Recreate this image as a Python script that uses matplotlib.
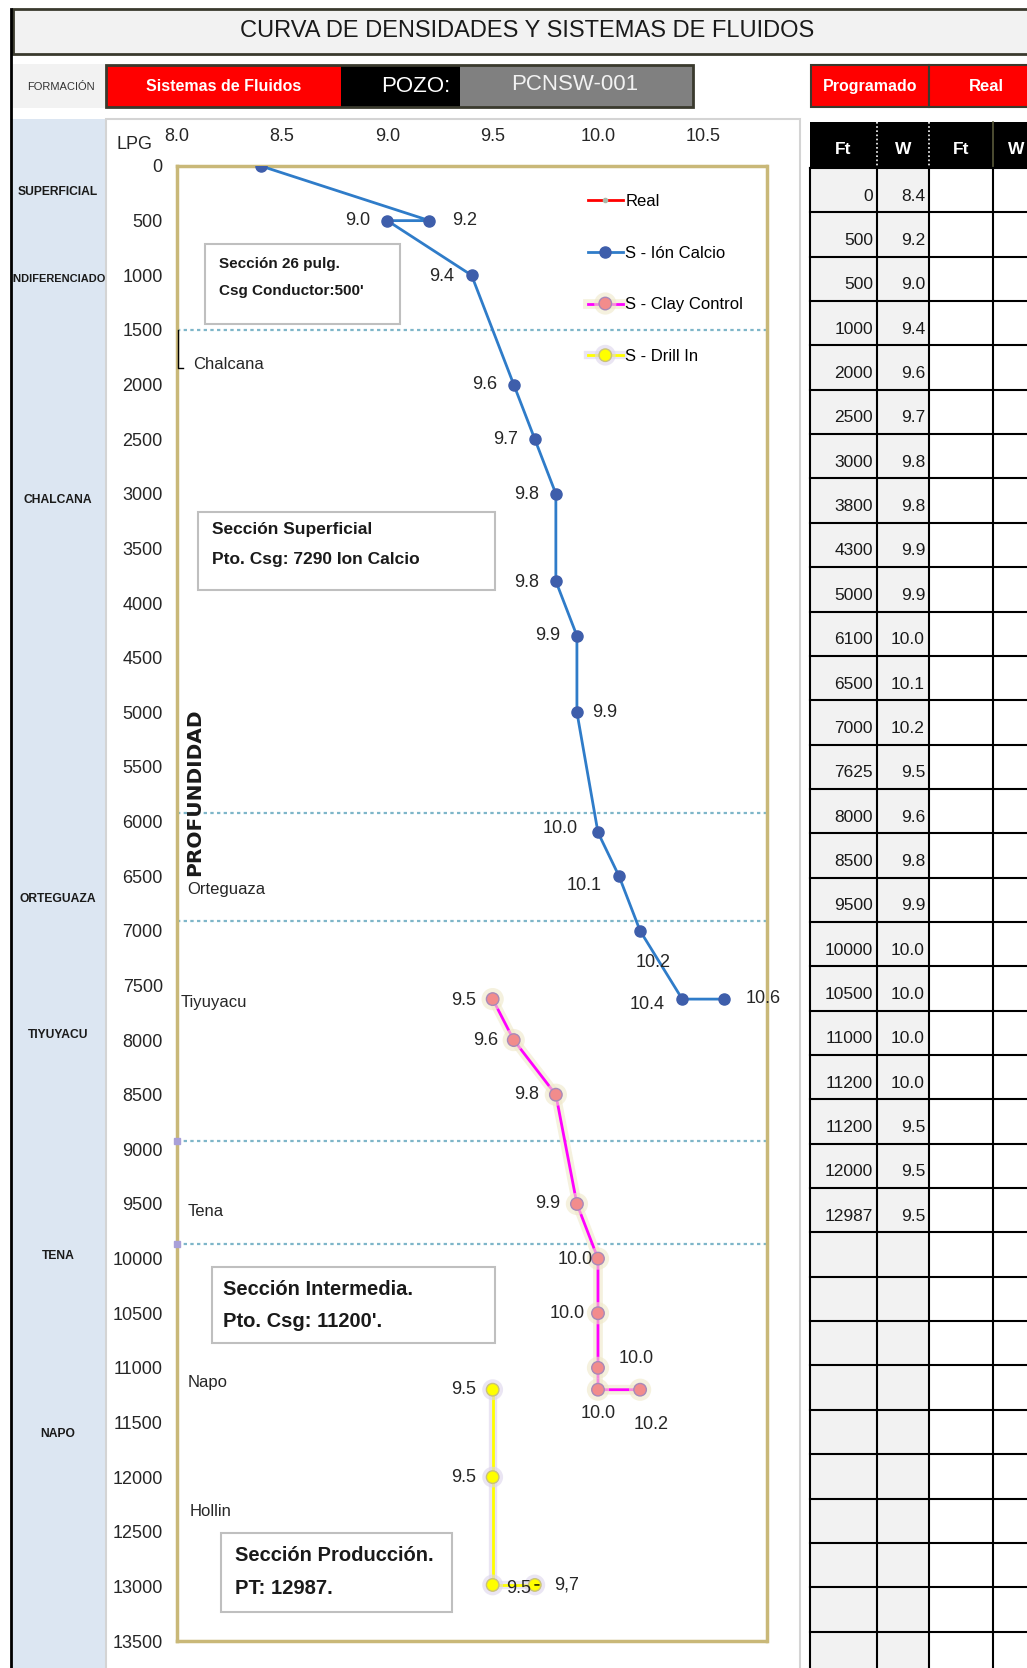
import matplotlib
matplotlib.use("Agg")
import matplotlib.pyplot as plt
import matplotlib.patheffects as pe
import matplotlib.transforms as mtransforms
from matplotlib import font_manager
from matplotlib.patches import Rectangle

W, H = 1027, 1668

# --- chart series: depth (ft) and mud weight (LPG) ---
calcio_ft = [0, 500, 500, 1000, 2000, 2500, 3000, 3800, 4300, 5000, 6100, 6500, 7000, 7625, 7625]
calcio_w = [8.4, 9.2, 9.0, 9.4, 9.6, 9.7, 9.8, 9.8, 9.9, 9.9, 10.0, 10.1, 10.2, 10.4, 10.6]
clay_ft = [7625, 8000, 8500, 9500, 10000, 10500, 11000, 11200, 11200]
clay_w = [9.5, 9.6, 9.8, 9.9, 10.0, 10.0, 10.0, 10.0, 10.2]
drill_ft = [11200, 12000, 12987, 12987]
drill_w = [9.5, 9.5, 9.5, 9.7]
drill_labels = ["9.5", "9.5", "9.5", "9,7"]
real_ft = []
real_w = []

# formation tops and names inside the plot
tops_ft = [1500, 5920, 6910, 8925, 9870]
top_marks_ft = [8925, 9870]
form_names = ["Chalcana", "Orteguaza", "Tiyuyacu", "Tena", "Napo", "Hollin"]
form_ft = [1820, 6625, 7655, 9565, 11135, 12315]
form_x = [8.077, 8.05, 8.02, 8.05, 8.05, 8.06]

# formation column on the left
col_names = ["SUPERFICIAL", "INDIFERENCIADO", "CHALCANA", "ORTEGUAZA", "TIYUYACU", "TENA", "NAPO"]
col_ft = [238, 1034, 3057, 6709, 7949, 9976, 11602]

# programmed table
prog_ft = [0, 500, 500, 1000, 2000, 2500, 3000, 3800, 4300, 5000, 6100, 6500, 7000, 7625,
           8000, 8500, 9500, 10000, 10500, 11000, 11200, 11200, 12000, 12987]
prog_w = [8.4, 9.2, 9.0, 9.4, 9.6, 9.7, 9.8, 9.8, 9.9, 9.9, 10.0, 10.1, 10.2, 9.5,
          9.6, 9.8, 9.9, 10.0, 10.0, 10.0, 10.0, 9.5, 9.5, 9.5]

xticks = [8.0, 8.5, 9.0, 9.5, 10.0, 10.5]
yticks = list(range(0, 13501, 500))

# section notes: lines, box x0, x1, y0, y1, text x, line depths, size
sections = [
    (["Sección 26 pulg.", "Csg Conductor:500'"], 8.134, 9.060, 714, 1446, 8.20, [897, 1144], 11),
    (["Sección Superficial", "Pto. Csg: 7290 Ion Calcio"], 8.101, 9.511, 3167, 3881, 8.168, [3331, 3606], 12.5),
    (["Sección Intermedia.", "Pto. Csg: 11200'."], 8.168, 9.511, 10077, 10773, 8.22, [10287, 10580], 14.5),
    (["Sección Producción.", "PT: 12987."], 8.21, 9.307, 12511, 13234, 8.277, [12713, 13015], 14.5),
]

# label offsets in pixels (dx, dy down)
calcio_off = [None, (35, 0), (-30, 0), (-30, 1), (-29, 0), (-29, 0), (-29, 1), (-29, 1),
              (-29, 0), (28, 0), (-38, -4), (-35, 9), (13, 32), (-35, 5), (39, -1)]
clay_off = [(-29, 1), (-28, 0), (-29, 0), (-29, 0), (-23, 1), (-31, 0), (38, -9), (0, 24), (11, 35)]
drill_off = [(-29, 0), (-29, 0), (26, 4), (32, 0)]

names = {f.name for f in font_manager.fontManager.ttflist}
if "Liberation Sans Narrow" in names:
    NARROW, NS = "Liberation Sans Narrow", 1.2
else:
    NARROW, NS = "Liberation Sans", 1.0
plt.rcParams["font.family"] = ["Liberation Sans", "DejaVu Sans"]

fig = plt.figure(figsize=(W / 100, H / 100), dpi=100)
fig.patch.set_facecolor("white")

# decoration layer in pixel coordinates
deco = fig.add_axes([0, 0, 1, 1])
deco.set_xlim(0, W)
deco.set_ylim(H, 0)
deco.axis("off")
deco.set_zorder(-1)


def prect(x0, y0, x1, y1, **kw):
    deco.add_patch(Rectangle((x0, y0), x1 - x0, y1 - y0, **kw))


# title
prect(13, 9, 1040, 54, fc="#F2F2F2", ec="#3A3A2E", lw=2)
deco.text(527, 31, "CURVA DE DENSIDADES Y SISTEMAS DE FLUIDOS", ha="center", va="center",
          fontsize=17 * NS, family=NARROW, color="#1a1a1a")

# second row
prect(13, 64, 106, 108, fc="#F2F2F2", ec="none")
deco.text(61, 87, "FORMACIÓN", ha="center", va="center", fontsize=8 * NS, family=NARROW, color="#333333")
prect(106, 65, 341, 107, fc="#FF0000", ec="none")
prect(341, 65, 460, 107, fc="black", ec="none")
prect(460, 65, 693, 107, fc="#808080", ec="none")
prect(106, 65, 693, 107, fc="none", ec="#3A3A2E", lw=2)
deco.text(224, 86, "Sistemas de Fluidos", ha="center", va="center", fontsize=11.5 * NS,
          family=NARROW, fontweight="bold", color="white")
deco.text(416, 86, "POZO:", ha="center", va="center", fontsize=16 * NS, family=NARROW, color="white")
deco.text(575, 84, "PCNSW-001", ha="center", va="center", fontsize=16 * NS, family=NARROW, color="#F2F2F2")
prect(811, 65, 929, 107, fc="#FF0000", ec="#3A3A2E", lw=1.5)
prect(929, 65, 1040, 107, fc="#FF0000", ec="#3A3A2E", lw=1.5)
deco.text(870, 86, "Programado", ha="center", va="center", fontsize=11.5 * NS, family=NARROW,
          fontweight="bold", color="white")
deco.text(986, 86, "Real", ha="center", va="center", fontsize=12 * NS, family=NARROW,
          fontweight="bold", color="white")

# formation column and chart area
prect(11, 119, 106, H + 5, fc="#DCE6F2", ec="none")
prect(106, 119, 800, H + 5, fc="white", ec="#D4D4D4", lw=1.5)
deco.plot([11, 11], [9, H], color="black", lw=2)
deco.text(135, 144, "LPG", ha="center", va="center", fontsize=13, color="#262626")

# table
tx = [810, 877, 929, 993, 1060]
head_top, head_bot, row_h = 122, 168, 44.35
n_rows = int((H - head_bot) / row_h) + 1
prect(810, head_top, 1060, head_bot, fc="black", ec="none")
prect(810, head_bot, 929, H + 5, fc="#F2F2F2", ec="none")
for xv in tx[1:3]:
    deco.plot([xv, xv], [head_top, head_bot], color="white", lw=1.2, ls=(0, (1, 1.5)))
deco.plot([993, 993], [head_top, head_bot], color="#5A5A3A", lw=1.2)
for lab, xc in zip(["Ft", "W", "Ft", "W"], [843, 903, 961, 1016]):
    deco.text(xc, 149, lab, ha="center", va="center", fontsize=12.5 * NS, family=NARROW,
              fontweight="bold", color="white")
for k in range(n_rows + 1):
    yv = head_bot + k * row_h
    deco.plot([810, 1060], [yv, yv], color="black", lw=1.5)
for xv in tx[:4]:
    deco.plot([xv, xv], [head_bot, H + 5], color="black", lw=1.5)
for k, (ft, w) in enumerate(zip(prog_ft, prog_w)):
    yc = head_bot + (k + 0.5) * row_h + 6
    deco.text(873, yc, f"{ft}", ha="right", va="center", fontsize=12.5 * NS, family=NARROW, color="#1a1a1a")
    deco.text(925, yc, f"{w:.1f}", ha="right", va="center", fontsize=12.5 * NS, family=NARROW, color="#1a1a1a")

# main chart
ax = fig.add_axes([176.7 / W, 1 - 1641 / H, 589.8 / W, 1475 / H])
ax.set_zorder(1)
ax.set_xlim(8.0, 10.8)
ax.set_ylim(13500, 0)
ax.set_facecolor("white")
for s in ax.spines.values():
    s.set_color("#C9B878")
    s.set_linewidth(2.5)
ax.xaxis.tick_top()
ax.set_xticks(xticks)
ax.set_xticklabels([f"{v:.1f}" for v in xticks])
ax.set_yticks(yticks)
ax.set_yticklabels([str(v) for v in yticks])
ax.tick_params(axis="both", length=0, labelsize=13, labelcolor="#262626")
ax.tick_params(axis="x", pad=15)
ax.tick_params(axis="y", pad=10)

for t in tops_ft:
    ax.axhline(t, color="#7EB6C9", ls=(0, (1.5, 1.5)), lw=1.6, zorder=1)
ax.plot([8.0] * len(top_marks_ft), top_marks_ft, ls="none", marker="s", ms=5,
        color="#A9A0D8", clip_on=False, zorder=5)
ax.plot([8.006, 8.006, 8.03], [1500, 1850, 1850], color="black", lw=1, clip_on=False, zorder=5)

for nm, xv, fv in zip(form_names, form_x, form_ft):
    ax.text(xv, fv, nm, ha="left", va="center", fontsize=12, color="#262626", zorder=4)
ax.text(8.083, 5730, "PROFUNDIDAD", rotation=90, ha="center", va="center", fontsize=14.5,
        fontweight="bold", family="DejaVu Sans", color="#1a1a1a", zorder=4)

for lines, x0, x1, y0, y1, xt, ys, fs in sections:
    ax.add_patch(Rectangle((x0, y0), x1 - x0, y1 - y0, fc="white", ec="#BFBFBF", lw=1.5, zorder=3))
    for ln, yv in zip(lines, ys):
        ax.text(xt, yv, ln, ha="left", va="center", fontsize=fs, fontweight="bold",
                color="#1a1a1a", zorder=4)

l_real, = ax.plot(real_w, real_ft, color="#FF0000", lw=2, marker="o", ms=3,
                  mfc="#A8B8A8", mec="#A8B8A8", label="Real")
l_cal, = ax.plot(calcio_w, calcio_ft, color="#2F7CC9", lw=2, marker="o", ms=8,
                 mfc="#3E5EAB", mec="#3E5EAB", label="S - Ión Calcio", zorder=4)
l_clay, = ax.plot(clay_w, clay_ft, color="#FF00FF", lw=2, marker="o", ms=9,
                  mfc="#F28C8C", mec="#A889B8", label="S - Clay Control", zorder=4,
                  path_effects=[pe.Stroke(linewidth=7, foreground="#EFE8C8", alpha=0.6), pe.Normal()])
l_drill, = ax.plot(drill_w, drill_ft, color="#FFFF00", lw=2, marker="o", ms=9,
                   mfc="#FFFF00", mec="#C9C27A", label="S - Drill In", zorder=4,
                   path_effects=[pe.Stroke(linewidth=6, foreground="#DCD5EC", alpha=0.6), pe.Normal()])


def labels(ws, fts, txts, offs):
    for w, f, t, o in zip(ws, fts, txts, offs):
        if o is None:
            continue
        ax.annotate(t, (w, f), xytext=(o[0] * 0.72, -o[1] * 0.72), textcoords="offset points",
                    ha="center", va="center", fontsize=13, color="#262626", zorder=6)


labels(calcio_w, calcio_ft, [f"{w:.1f}" for w in calcio_w], calcio_off)
labels(clay_w, clay_ft, [f"{w:.1f}" for w in clay_w], clay_off)
labels(drill_w[:3], drill_ft[:3], drill_labels[:3], drill_off[:3])
ax.annotate(drill_labels[3], (drill_w[3], drill_ft[3]),
            xytext=(drill_off[3][0] * 0.72, -drill_off[3][1] * 0.72), textcoords="offset points",
            ha="center", va="center", fontsize=13, color="#262626", zorder=6,
            arrowprops=dict(arrowstyle="-", color="black", lw=1, shrinkA=9, shrinkB=4))

ax.legend(handles=[l_real, l_cal, l_clay, l_drill], loc="upper left", bbox_to_anchor=(0.697, 0.981),
          frameon=False, fontsize=12, labelspacing=2.2, handlelength=2.1, handletextpad=0.15,
          borderaxespad=0, borderpad=0)

# formation column labels (depth follows the chart's y scale)
trans = mtransforms.blended_transform_factory(deco.transData, ax.transData)
for nm, fv in zip(col_names, col_ft):
    size = 7.9 if nm == "INDIFERENCIADO" else 8.7
    fig.text(58, fv, nm, transform=trans, ha="center", va="center", fontsize=size * NS,
             family=NARROW, fontweight="bold", color="#1a1a1a")

fig.savefig("out.png", dpi=100, facecolor="white")
